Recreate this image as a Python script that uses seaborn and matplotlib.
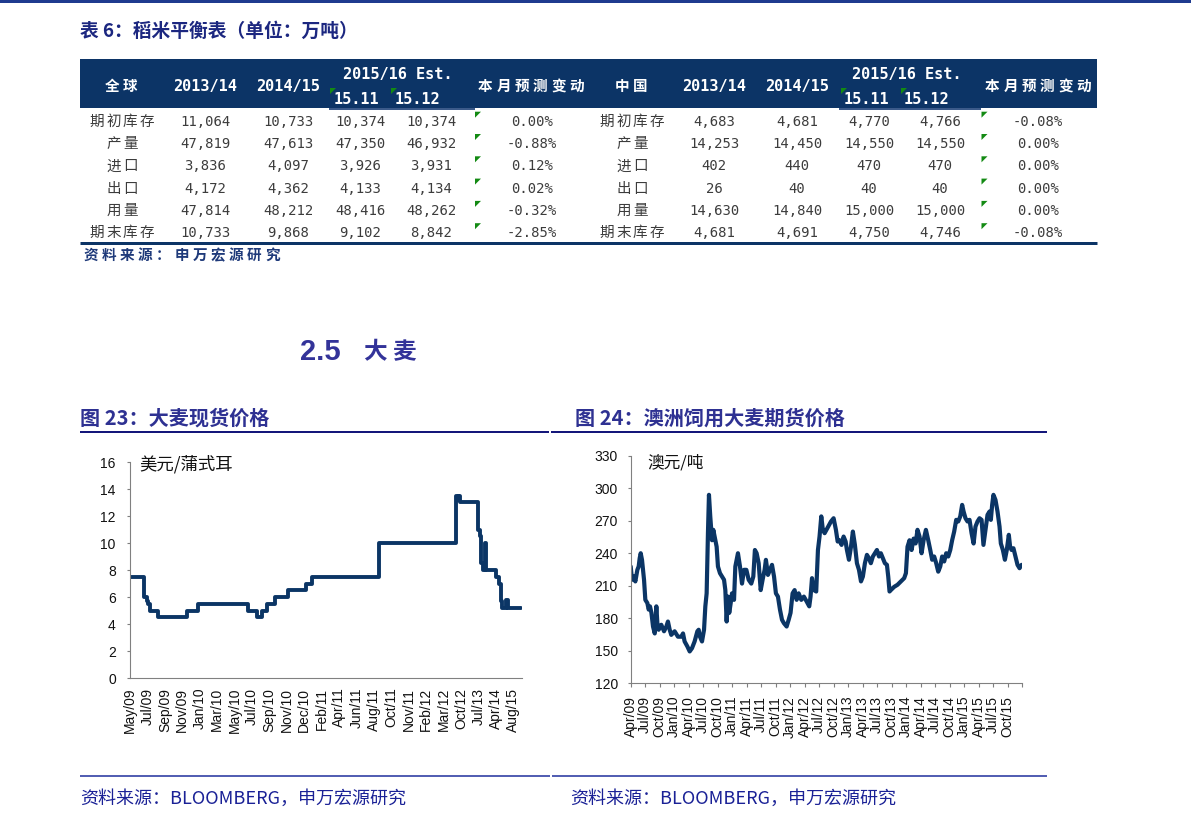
import matplotlib
matplotlib.use("Agg")
import matplotlib.pyplot as plt
import seaborn as sns
import numpy as np
import pandas as pd
from matplotlib.lines import Line2D
from matplotlib.patches import Rectangle, Polygon

# ---------------- data ----------------
row_labels = ["期初库存", "产量", "进口", "出口", "用量", "期末库存"]
world_1314 = [11064, 47819, 3836, 4172, 47814, 10733]
world_1415 = [10733, 47613, 4097, 4362, 48212, 9868]
world_1511 = [10374, 47350, 3926, 4133, 48416, 9102]
world_1512 = [10374, 46932, 3931, 4134, 48262, 8842]
world_chg = [0.00, -0.88, 0.12, 0.02, -0.32, -2.85]
china_1314 = [4683, 14253, 402, 26, 14630, 4681]
china_1415 = [4681, 14450, 440, 40, 14840, 4691]
china_1511 = [4770, 14550, 470, 40, 15000, 4750]
china_1512 = [4766, 14550, 470, 40, 15000, 4746]
china_chg = [-0.08, 0.00, 0.00, 0.00, 0.00, -0.08]

# Figure 23: barley spot price (step series, x = category-label index)
spot_x = [0.00, 0.80, 0.96, 1.05, 1.15, 1.63, 3.25, 3.92, 6.79, 7.27, 7.55, 7.84,
          8.32, 9.08, 10.13, 10.46, 14.28, 18.70, 18.82, 18.88, 18.94, 19.98, 20.08,
          20.17, 20.24, 20.40, 20.46, 21.03, 21.18, 21.32, 21.38, 21.61, 21.68, 22.47]
spot_y = [7.5, 6.0, 5.7, 5.5, 5.0, 4.5, 5.0, 5.5, 5.0, 4.5, 5.0, 5.5,
          6.0, 6.5, 7.0, 7.5, 10.0, 13.5, 13.2, 13.5, 13.0, 11.0, 10.5,
          8.5, 8.0, 10.0, 8.0, 7.5, 7.0, 5.7, 5.2, 5.8, 5.2, 5.2]
spot_labels = ["May/09", "Jul/09", "Sep/09", "Nov/09", "Jan/10", "Mar/10", "May/10",
               "Jul/10", "Sep/10", "Nov/10", "Dec/10", "Feb/11", "Apr/11", "Jun/11",
               "Aug/11", "Oct/11", "Nov/11", "Feb/12", "Mar/12", "Oct/12", "Jul/13",
               "Apr/14", "Aug/15"]

# Figure 24: Australian feed barley futures (x = quarters since Apr/09)
fut_q = [0.00, 0.09, 0.23, 0.32, 0.46, 0.55, 0.62, 0.69, 0.78, 0.92, 1.01, 1.15, 1.24,
         1.33, 1.43, 1.54, 1.66, 1.77, 1.84, 1.93, 2.11, 2.30, 2.46, 2.57, 2.69, 2.80,
         3.03, 3.26, 3.49, 3.61, 3.72, 3.91, 4.07, 4.23, 4.41, 4.60, 4.69, 4.78, 4.92,
         5.06, 5.15, 5.24, 5.29, 5.33, 5.40, 5.49, 5.61, 5.70, 5.84, 5.93, 6.02, 6.16,
         6.30, 6.44, 6.53, 6.62, 6.71, 6.80, 6.90, 6.99, 7.13, 7.22, 7.40, 7.54, 7.68,
         7.82, 7.98, 8.14, 8.32, 8.46, 8.57, 8.69, 8.83, 8.97, 9.10, 9.24, 9.33, 9.47,
         9.61, 9.75, 9.89, 10.02, 10.16, 10.30, 10.44, 10.57, 10.76, 10.90, 11.03,
         11.17, 11.31, 11.45, 11.59, 11.77, 11.95, 12.14, 12.32, 12.41, 12.51, 12.64,
         12.80, 12.92, 13.03, 13.15, 13.26, 13.38, 13.63, 13.82, 14.00, 14.16, 14.28,
         14.41, 14.55, 14.69, 14.83, 14.92, 15.06, 15.20, 15.33, 15.47, 15.61, 15.75,
         15.89, 16.02, 16.16, 16.30, 16.44, 16.57, 16.71, 16.85, 16.99, 17.13, 17.26,
         17.40, 17.54, 17.68, 17.77, 17.86, 17.95, 18.18, 18.41, 18.64, 18.87, 18.99,
         19.10, 19.24, 19.38, 19.52, 19.66, 19.79, 19.93, 20.07, 20.21, 20.37, 20.53,
         20.67, 20.80, 20.94, 21.08, 21.22, 21.36, 21.49, 21.63, 21.77, 21.91, 22.05,
         22.18, 22.32, 22.46, 22.60, 22.74, 22.87, 22.97, 23.10, 23.24, 23.38, 23.52,
         23.66, 23.79, 23.93, 24.07, 24.21, 24.34, 24.48, 24.62, 24.76, 24.85, 24.94,
         25.03, 25.17, 25.31, 25.45, 25.54, 25.68, 25.82, 25.95, 26.09, 26.18, 26.28,
         26.41, 26.55, 26.69, 26.83, 26.97]
fut_v = [227.8, 215.5, 218.5, 214.0, 224.7, 227.8, 235.4, 240.0, 233.9, 215.5, 197.0,
         194.0, 188.0, 191.0, 185.0, 172.4, 166.0, 191.0, 175.5, 169.4, 174.0, 168.0,
         172.4, 177.0, 169.4, 164.7, 168.0, 163.0, 163.0, 166.0, 158.6, 154.0, 149.4,
         152.4, 158.6, 168.0, 169.4, 163.0, 158.6, 169.4, 191.0, 203.0, 234.0, 258.5,
         293.9, 274.0, 252.0, 261.6, 252.0, 246.0, 227.8, 221.6, 218.5, 215.5, 206.0,
         177.0, 200.0, 185.0, 194.0, 203.0, 197.0, 227.8, 240.0, 227.8, 212.0, 224.7,
         224.7, 215.5, 212.0, 218.5, 243.0, 240.0, 230.8, 206.0, 215.5, 224.7, 233.9,
         220.0, 224.7, 229.3, 218.5, 203.0, 200.0, 188.0, 178.6, 175.5, 172.4, 178.6,
         185.0, 203.0, 206.0, 197.0, 203.0, 197.0, 200.0, 195.5, 191.0, 200.0, 217.0,
         206.0, 204.7, 243.0, 255.4, 274.0, 261.6, 258.5, 264.6, 269.3, 272.3, 261.6,
         250.8, 252.0, 247.7, 255.4, 250.8, 243.0, 234.0, 246.0, 260.0, 247.7, 230.8,
         224.7, 214.0, 218.5, 230.8, 238.5, 235.4, 230.8, 237.0, 240.0, 243.0, 237.0,
         240.0, 235.4, 230.8, 229.3, 218.5, 204.7, 206.0, 209.0, 210.9, 214.0, 217.0,
         221.6, 246.0, 252.0, 243.0, 253.5, 249.0, 261.6, 255.4, 240.0, 252.0, 261.6,
         252.0, 243.0, 234.0, 237.0, 230.8, 223.0, 227.8, 237.0, 232.4, 240.0, 237.0,
         243.0, 252.0, 260.0, 270.8, 269.3, 274.0, 284.6, 278.5, 272.3, 269.3, 270.8,
         258.5, 249.0, 264.6, 269.3, 272.3, 270.8, 247.7, 261.6, 275.4, 278.5, 270.8,
         284.6, 293.9, 289.2, 278.5, 264.6, 249.0, 243.0, 234.0, 243.0, 257.0, 246.0,
         243.0, 244.6, 237.0, 229.3, 226.2, 229.3]
fut_labels = ["Apr/09", "Jul/09", "Oct/09", "Jan/10", "Apr/10", "Jul/10", "Oct/10",
              "Jan/11", "Apr/11", "Jul/11", "Oct/11", "Jan/12", "Apr/12", "Jul/12",
              "Oct/12", "Jan/13", "Apr/13", "Jul/13", "Oct/13", "Jan/14", "Apr/14",
              "Jul/14", "Oct/14", "Jan/15", "Apr/15", "Jul/15", "Oct/15"]

# ---------------- style ----------------
sns.set_style("white")
plt.rcParams["font.family"] = ["Liberation Sans", "Noto Sans CJK SC"]
CJK = ["Noto Sans CJK SC", "DejaVu Sans"]
MONO = ["DejaVu Sans Mono", "Noto Sans CJK SC"]

NAVY = "#0c3466"
LINE = "#0b3565"
TEXT_GRAY = "#3c3c3c"
INDIGO = "#2e3192"

W, H = 1191, 830
fig = plt.figure(figsize=(W / 100, H / 100), dpi=100)


def fx(x):
    return x / W


def fy(y):
    return 1 - y / H


def hline(x0, x1, y, lw_px, color):
    fig.add_artist(Line2D([fx(x0), fx(x1)], [fy(y), fy(y)], lw=lw_px * 0.72,
                          color=color, transform=fig.transFigure, solid_capstyle="butt"))


def rect(x0, y0, x1, y1, color):
    fig.add_artist(Rectangle((fx(x0), fy(y1)), fx(x1) - fx(x0), fy(y0) - fy(y1),
                             transform=fig.transFigure, color=color, lw=0))


def spaced(xc, y, s, step, **kw):
    n = len(s)
    for k, ch in enumerate(s):
        fig.text(fx(xc + (k - (n - 1) / 2) * step), fy(y), ch,
                 ha="center", va="center", **kw)


def tri(x, y, s=6):
    fig.add_artist(Polygon([[fx(x), fy(y)], [fx(x + s), fy(y)], [fx(x), fy(y + s)]],
                           closed=True, transform=fig.transFigure, color="#138a13", lw=0))


# top rule
rect(0, 0, W, 3, "#1f3b8f")

# table title
fig.text(fx(80), fy(31), "表 6：稻米平衡表（单位：万吨）", family=CJK, weight="bold",
         size=13.5, color="#1c2780", ha="left", va="center")

# header band
rect(80, 59, 1097, 108, NAVY)
hline(329, 475, 109, 2, "#3b5a8a")
hline(839, 981, 109, 2, "#3b5a8a")

hdr_kw = dict(color="white", weight="bold")
for lab, cols in (("全球", (121, 205, 288, 398, 356, 417, 531)),
                  ("中国", (631, 714, 797, 907, 866, 926, 1038))):
    spaced(cols[0], 86, lab, 17.5, family=CJK, size=10.5, **hdr_kw)
    fig.text(fx(cols[1]), fy(86), "2013/14", family=MONO, size=11, ha="center",
             va="center", **hdr_kw)
    fig.text(fx(cols[2]), fy(86), "2014/15", family=MONO, size=11, ha="center",
             va="center", **hdr_kw)
    fig.text(fx(cols[3]), fy(75), "2015/16 Est.", family=MONO, size=11, ha="center",
             va="center", **hdr_kw)
    fig.text(fx(cols[4]), fy(99), "15.11", family=MONO, size=11, ha="center",
             va="center", **hdr_kw)
    fig.text(fx(cols[5]), fy(99), "15.12", family=MONO, size=11, ha="center",
             va="center", **hdr_kw)
    spaced(cols[6], 86, "本月预测变动", 18.3, family=CJK, size=10.5, **hdr_kw)

for tx in (330, 391, 841, 901):
    tri(tx, 88)

# table body
row_y0, row_dy = 121.7, 22.3
left_cols = (205, 288, 360, 431, 532)
right_cols = (714, 797, 869, 940, 1038)
for i, lab in enumerate(row_labels):
    y = row_y0 + i * row_dy
    for lx, cols, series, chg, tx in (
            (122, left_cols, (world_1314, world_1415, world_1511, world_1512), world_chg, 475),
            (632, right_cols, (china_1314, china_1415, china_1511, china_1512), china_chg, 981.5)):
        spaced(lx, y, lab, 16.5, family=CJK, size=10.5, color=TEXT_GRAY)
        for cx, ser in zip(cols[:4], series):
            fig.text(fx(cx), fy(y), f"{ser[i]:,}", family=MONO, size=10,
                     color=TEXT_GRAY, ha="center", va="center")
        fig.text(fx(cols[4]), fy(y), f"{chg[i]:.2f}%", family=MONO, size=10,
                 color=TEXT_GRAY, ha="center", va="center")
        tri(tx, y - 10)

hline(80, 1097, 242.7, 3, NAVY)
spaced(181.5, 255, "资料来源：申万宏源研究", 18.2, family=CJK, size=10.5,
       weight="bold", color="#1f3a7a")

# section heading
fig.text(fx(300), fy(352), "2.5", family=["Liberation Sans"], weight="bold", size=21,
         color="#333399", ha="left", va="center")
spaced(390, 352, "大麦", 30, family=CJK, size=17, weight="bold", color="#333399")

# chart titles & rules
fig.text(fx(80), fy(418), "图 23：大麦现货价格", family=CJK, weight="bold", size=14.5,
         color=INDIGO, ha="left", va="center")
fig.text(fx(575), fy(418), "图 24：澳洲饲用大麦期货价格", family=CJK, weight="bold",
         size=14.5, color=INDIGO, ha="left", va="center")
hline(80, 549, 432, 2, "#14177a")
hline(551, 1047, 432, 2, "#14177a")

# footers
hline(80, 550, 775.5, 1.5, "#1a2a9a")
hline(552, 1047, 775.5, 1.5, "#1a2a9a")
for x0 in (80, 570):
    fig.text(fx(x0), fy(799), "资料来源：BLOOMBERG，申万宏源研究", family=CJK, size=13,
             color="#1a2196", ha="left", va="center")

# ---------------- chart 1 ----------------
ax1 = fig.add_axes([fx(130), fy(678), fx(522) - fx(130), fy(462) - fy(678)])
sns.lineplot(x=spot_x, y=spot_y, ax=ax1, color=LINE, linewidth=2.8,
             drawstyle="steps-post", estimator=None, sort=False)
ax1.set_xlim(0, 22.5)
ax1.set_ylim(0, 16)
ax1.set_yticks(range(0, 17, 2))
ax1.set_xticks(range(len(spot_labels)))
ax1.set_xticklabels(spot_labels, rotation=90)
ax1.tick_params(axis="x", length=0, pad=7, labelsize=10, colors="#111111")
ax1.tick_params(axis="y", length=2.2, width=0.8, pad=8, labelsize=10,
                colors="#7f7f7f", labelcolor="#111111", direction="out", left=True)
ax1.set_xlabel("")
ax1.set_ylabel("")
for side in ("top", "right"):
    ax1.spines[side].set_visible(False)
for side in ("left", "bottom"):
    ax1.spines[side].set_color("#808080")
    ax1.spines[side].set_linewidth(0.8)
fig.text(fx(139), fy(464), "美元/蒲式耳", family=CJK, size=12.5, color="#111111",
         ha="left", va="center")

# ---------------- chart 2 ----------------
ax2 = fig.add_axes([fx(630.7), fy(683.3), fx(1022) - fx(630.7), fy(455.7) - fy(683.3)])
sns.lineplot(x=fut_q, y=fut_v, ax=ax2, color=LINE, linewidth=3.0,
             estimator=None, sort=False)
ax2.set_xlim(0, 27)
ax2.set_ylim(120, 330)
ax2.set_yticks(range(120, 331, 30))
ax2.set_xticks(range(len(fut_labels) + 1))
ax2.set_xticklabels(fut_labels + [""], rotation=90)
ax2.tick_params(axis="x", length=3, width=0.8, pad=6, labelsize=10,
                colors="#7f7f7f", labelcolor="#111111", direction="out", bottom=True)
ax2.tick_params(axis="y", length=2.2, width=0.8, pad=7, labelsize=10,
                colors="#7f7f7f", labelcolor="#111111", direction="out", left=True)
ax2.set_xlabel("")
ax2.set_ylabel("")
for side in ("top", "right"):
    ax2.spines[side].set_visible(False)
for side in ("left", "bottom"):
    ax2.spines[side].set_color("#808080")
    ax2.spines[side].set_linewidth(0.8)
fig.text(fx(647), fy(463), "澳元/吨", family=CJK, size=12, color="#111111",
         ha="left", va="center")

fig.savefig("out.png", dpi=100, facecolor="white")
